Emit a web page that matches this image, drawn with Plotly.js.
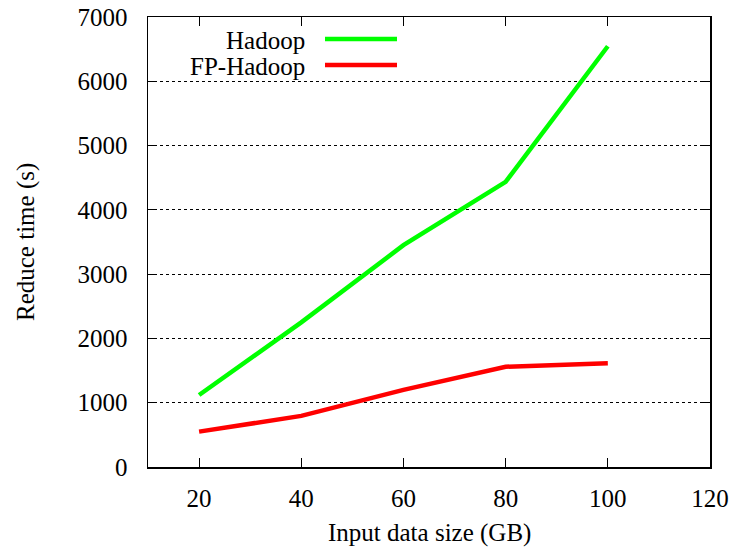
<!DOCTYPE html>
<html>
<head>
<meta charset="utf-8">
<script src="https://cdn.plot.ly/plotly-3.0.1.min.js"></script>
<style>html,body{margin:0;padding:0;background:#fff;}#chart{width:734px;height:550px;}</style>
</head>
<body>
<div id="chart"></div>
<script>
const sizesGB = [20, 40, 60, 80, 100];
const hadoopTime = [1120, 2250, 3450, 4435, 6545];
const fpHadoopTime = [550, 795, 1200, 1560, 1612];
const seriesNames = ['Hadoop', 'FP-Hadoop'];
const xTicks = [20, 40, 60, 80, 100, 120];
const yTicks = [0, 1000, 2000, 3000, 4000, 5000, 6000, 7000];

const font = {family: 'Liberation Serif, Times New Roman, serif', size: 25, color: '#000'};

const traces = [
  {x: sizesGB, y: hadoopTime, name: seriesNames[0], mode: 'lines', line: {color: '#00ff00', width: 4.5}},
  {x: sizesGB, y: fpHadoopTime, name: seriesNames[1], mode: 'lines', line: {color: '#ff0000', width: 4.5}}
];

const axisCommon = {
  showline: true, linecolor: '#000', linewidth: 1.5, mirror: 'allticks',
  ticks: 'inside', ticklen: 9, tickcolor: '#000', tickwidth: 1,
  zeroline: false, tickfont: font, fixedrange: true
};

const layout = {
  width: 734, height: 550,
  margin: {l: 148, r: 24, t: 17, b: 83},
  paper_bgcolor: '#fff', plot_bgcolor: '#fff',
  showlegend: false,
  font: font,
  xaxis: Object.assign({}, axisCommon, {
    range: [10, 120], tickvals: xTicks, ticktext: xTicks.map(String),
    showgrid: false, ticklabelstandoff: 8
  }),
  yaxis: Object.assign({}, axisCommon, {
    range: [0, 7000], tickvals: yTicks, ticktext: yTicks.map(String),
    showgrid: true, gridcolor: '#000', gridwidth: 1, griddash: 'dot',
    ticklabelstandoff: 14
  }),
  annotations: [
    {text: 'Input data size (GB)', xref: 'paper', yref: 'paper', x: 0.5, y: -66 / 450,
     xanchor: 'center', yanchor: 'middle', showarrow: false, font: font},
    {text: 'Reduce time (s)', xref: 'paper', yref: 'paper', x: (26 - 148) / 562, y: 0.5,
     xanchor: 'center', yanchor: 'middle', textangle: -90, showarrow: false, font: font},
    {text: seriesNames[0], xref: 'paper', yref: 'paper', x: (307 - 148) / 562, y: (467 - 40) / 450,
     xanchor: 'right', yanchor: 'middle', showarrow: false, font: font},
    {text: seriesNames[1], xref: 'paper', yref: 'paper', x: (307 - 148) / 562, y: (467 - 66) / 450,
     xanchor: 'right', yanchor: 'middle', showarrow: false, font: font}
  ],
  shapes: [
    {type: 'line', xref: 'paper', yref: 'paper', x0: (325 - 148) / 562, x1: (397 - 148) / 562,
     y0: (467 - 39) / 450, y1: (467 - 39) / 450, line: {color: '#00ff00', width: 4.5}},
    {type: 'line', xref: 'paper', yref: 'paper', x0: (325 - 148) / 562, x1: (397 - 148) / 562,
     y0: (467 - 65) / 450, y1: (467 - 65) / 450, line: {color: '#ff0000', width: 4.5}}
  ]
};

Plotly.newPlot('chart', traces, layout, {staticPlot: true, displayModeBar: false});
</script>
</body>
</html>
